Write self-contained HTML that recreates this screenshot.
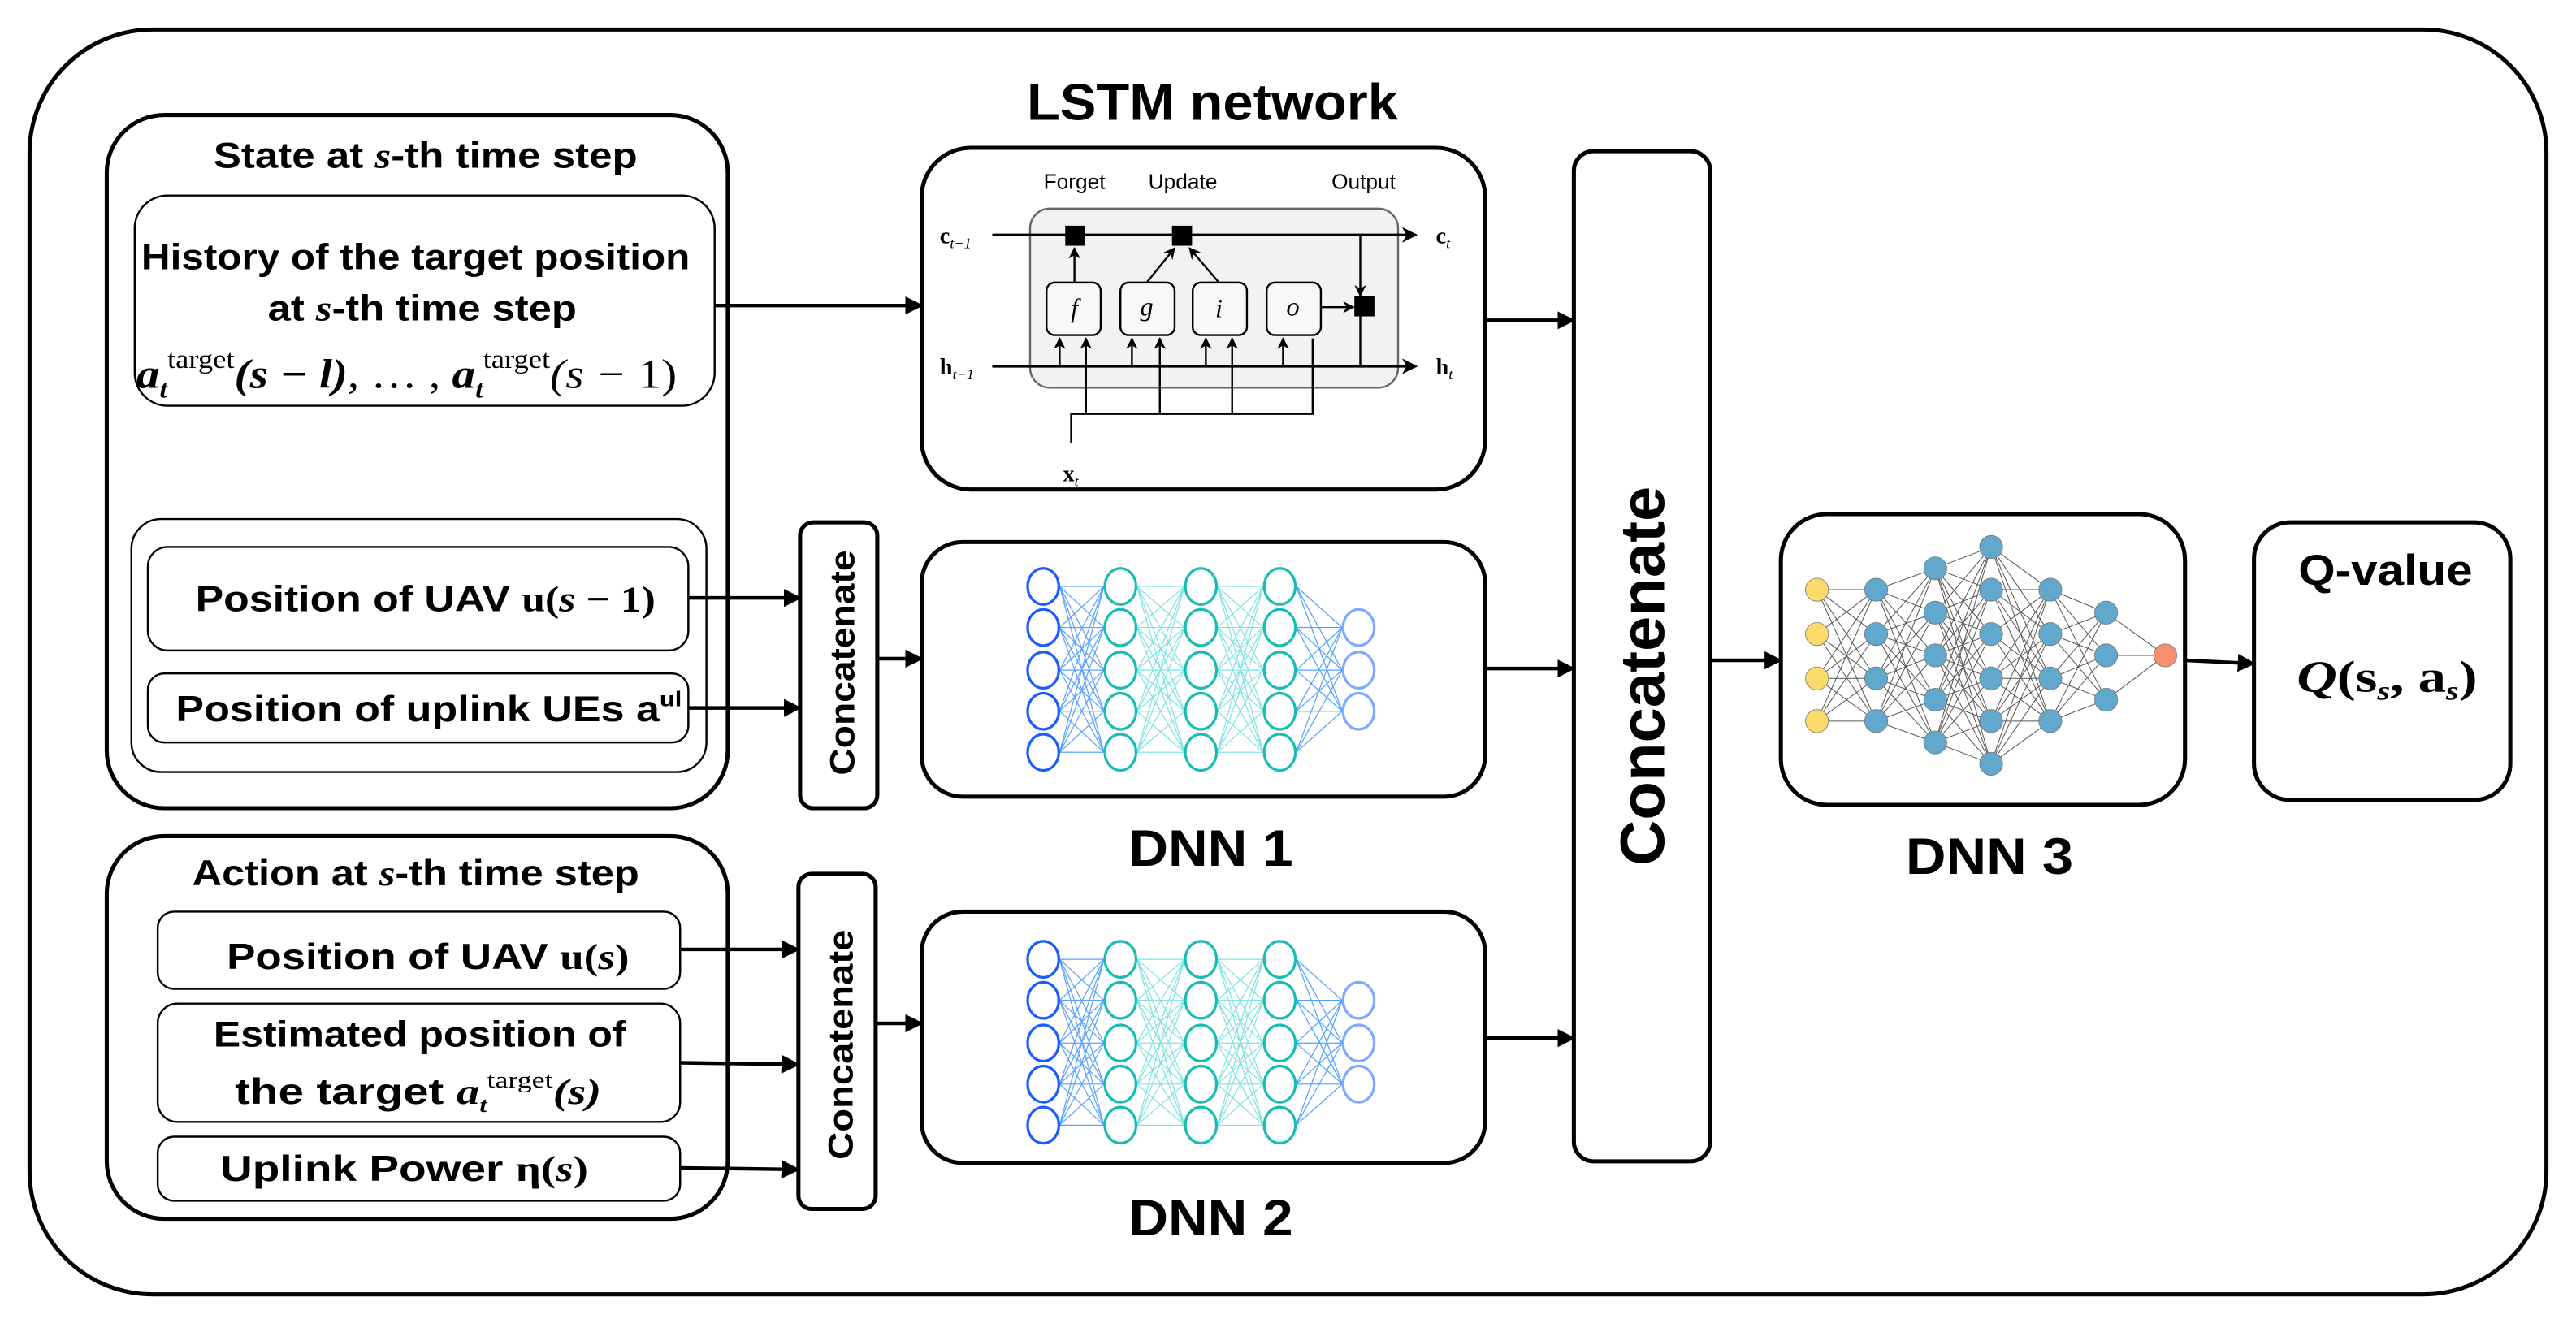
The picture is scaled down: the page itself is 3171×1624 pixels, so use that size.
<!DOCTYPE html>
<html><head><meta charset="utf-8"><style>
html,body{margin:0;padding:0;background:#fff;}
svg{display:block;}
.s{font-family:"Liberation Sans",sans-serif;font-weight:bold;fill:#000;}
.m{font-family:"Liberation Serif",serif;fill:#000;}
</style></head><body>
<svg id="g" width="3171" height="1624" viewBox="0 0 1568 803" preserveAspectRatio="none" xmlns="http://www.w3.org/2000/svg">
<defs>
<marker id="ah" viewBox="0 0 10 10" refX="9" refY="5" markerWidth="5" markerHeight="5" orient="auto"><path d="M0,0 L10,5 L0,10 z" fill="#000"/></marker>
<marker id="as" viewBox="0 0 10 10" refX="9" refY="5" markerWidth="6" markerHeight="6" orient="auto"><path d="M0,0 L10,5 L0,10 L3,5 z" fill="#000"/></marker>
</defs>
<g fill="none" stroke="#000">
<rect x="18" y="18" width="1532" height="770" rx="75" stroke-width="2.5"/>
<rect x="65" y="70" width="378" height="422" rx="35" stroke-width="2.5"/>
<rect x="82" y="119" width="353" height="128" rx="20" stroke-width="1.2"/>
<rect x="80" y="316" width="350" height="154" rx="18" stroke-width="1.2"/>
<rect x="90" y="333" width="329" height="63" rx="12" stroke-width="1.2"/>
<rect x="90" y="410" width="329" height="42" rx="10" stroke-width="1.2"/>
<rect x="65" y="509" width="378" height="233" rx="35" stroke-width="2.5"/>
<rect x="96" y="555" width="318" height="47" rx="10" stroke-width="1.2"/>
<rect x="96" y="611" width="318" height="72" rx="12" stroke-width="1.2"/>
<rect x="96" y="692" width="318" height="39" rx="10" stroke-width="1.2"/>
<rect x="487" y="318" width="47" height="174" rx="8" stroke-width="2.5"/>
<rect x="486" y="532" width="47" height="204" rx="8" stroke-width="2.5"/>
<rect x="561" y="90" width="343" height="208" rx="30" stroke-width="2.5"/>
<rect x="561" y="330" width="343" height="155" rx="25" stroke-width="2.5"/>
<rect x="561" y="555" width="343" height="153" rx="25" stroke-width="2.5"/>
<rect x="958" y="92" width="83" height="615" rx="12" stroke-width="2.5"/>
<rect x="1084" y="313" width="246" height="177" rx="28" stroke-width="2.5"/>
<rect x="1372" y="318" width="156" height="169" rx="22" stroke-width="2.5"/>
<g stroke-width="2.2" marker-end="url(#ah)">
<line x1="435" y1="186" x2="561" y2="186"/>
<line x1="419" y1="364" x2="487" y2="364"/>
<line x1="419" y1="431" x2="487" y2="431"/>
<line x1="534" y1="401" x2="561" y2="401"/>
<line x1="414" y1="578" x2="486" y2="578"/>
<line x1="414" y1="647" x2="486" y2="648"/>
<line x1="414" y1="711" x2="486" y2="712"/>
<line x1="533" y1="623" x2="561" y2="623"/>
<line x1="904" y1="195" x2="958" y2="195"/>
<line x1="904" y1="407" x2="958" y2="407"/>
<line x1="904" y1="632" x2="958" y2="632"/>
<line x1="1041" y1="402" x2="1084" y2="402"/>
<line x1="1330" y1="402" x2="1372" y2="404"/>
</g>
</g>
<!-- LSTM internals -->
<g id="lstm" fill="none" stroke="#000" stroke-width="1.2">
<rect x="627" y="127" width="224" height="109" rx="12" fill="#f2f2f2" stroke="#666"/>
<line x1="604" y1="143" x2="862" y2="143" stroke-width="1.6" marker-end="url(#as)"/>
<line x1="604" y1="223" x2="862" y2="223" stroke-width="1.6" marker-end="url(#as)"/>
<rect x="649" y="138" width="11" height="11" fill="#000"/>
<rect x="714" y="138" width="11" height="11" fill="#000"/>
<rect x="825" y="181" width="11" height="11" fill="#000"/>
<rect x="637" y="172" width="33" height="32" rx="5" fill="#f8f8f8"/>
<rect x="682" y="172" width="33" height="32" rx="5" fill="#f8f8f8"/>
<rect x="726" y="172" width="33" height="32" rx="5" fill="#f8f8f8"/>
<rect x="771" y="172" width="33" height="32" rx="5" fill="#f8f8f8"/>
<line x1="654" y1="172" x2="654" y2="151" marker-end="url(#as)"/>
<line x1="698" y1="172" x2="715" y2="151" marker-end="url(#as)"/>
<line x1="742" y1="172" x2="724" y2="151" marker-end="url(#as)"/>
<line x1="804" y1="187" x2="824" y2="187" marker-end="url(#as)"/>
<line x1="828" y1="143" x2="828" y2="180" marker-end="url(#as)"/>
<line x1="828" y1="192" x2="828" y2="223"/>
<path d="M652,270 V252 H799 V206"/>
<g marker-end="url(#as)">
<line x1="645" y1="223" x2="645" y2="206"/><line x1="689" y1="223" x2="689" y2="206"/>
<line x1="734" y1="223" x2="734" y2="206"/>
<line x1="661" y1="252" x2="661" y2="206"/><line x1="706" y1="252" x2="706" y2="206"/>
<line x1="750" y1="252" x2="750" y2="206"/><line x1="781" y1="223" x2="781" y2="206"/>
</g>
</g>
<g font-family="Liberation Sans,sans-serif" font-size="13" text-anchor="middle" fill="#000">
<text x="654" y="115">Forget</text><text x="720" y="115">Update</text><text x="830" y="115">Output</text>
</g>
<g class="m" font-size="14" font-weight="bold">
<text x="572" y="148">c<tspan font-size="9" font-style="italic" font-weight="normal" dy="3">t−1</tspan></text>
<text x="572" y="228">h<tspan font-size="9" font-style="italic" font-weight="normal" dy="3">t−1</tspan></text>
<text x="874" y="148">c<tspan font-size="9" font-style="italic" font-weight="normal" dy="3">t</tspan></text>
<text x="874" y="228">h<tspan font-size="9" font-style="italic" font-weight="normal" dy="3">t</tspan></text>
<text x="647" y="293">x<tspan font-size="9" font-style="italic" font-weight="normal" dy="3">t</tspan></text>
</g>
<g class="m" font-size="16" font-style="italic" text-anchor="middle">
<text x="654" y="193">f</text><text x="698" y="192">g</text><text x="742" y="193">i</text><text x="787" y="192">o</text>
</g>
<g id="nets"></g>
<!-- text -->
<g class="s" lengthAdjust="spacingAndGlyphs">
<text x="625" y="73" font-size="31" textLength="226" lengthAdjust="spacingAndGlyphs">LSTM network</text>
<text x="130" y="102" font-size="22" textLength="258" lengthAdjust="spacingAndGlyphs">State at <tspan class="m" font-style="italic">s</tspan>-th time step</text>
<text x="86" y="164" font-size="22" textLength="334" lengthAdjust="spacingAndGlyphs">History of the target position</text>
<text x="163" y="195" font-size="22" textLength="188" lengthAdjust="spacingAndGlyphs">at <tspan class="m" font-style="italic">s</tspan>-th time step</text>
<text x="119" y="372" font-size="22" textLength="280" lengthAdjust="spacingAndGlyphs">Position of UAV <tspan class="m">u(<tspan font-style="italic">s</tspan> − 1)</tspan></text>
<text x="107" y="439" font-size="22" textLength="308" lengthAdjust="spacingAndGlyphs">Position of uplink UEs a<tspan font-size="13" dy="-9">ul</tspan></text>
<text x="117" y="539" font-size="22" textLength="272" lengthAdjust="spacingAndGlyphs">Action at <tspan class="m" font-style="italic">s</tspan>-th time step</text>
<text x="138" y="590" font-size="22" textLength="245" lengthAdjust="spacingAndGlyphs">Position of UAV <tspan class="m">u(<tspan font-style="italic">s</tspan>)</tspan></text>
<text x="130" y="637" font-size="22" textLength="251" lengthAdjust="spacingAndGlyphs">Estimated position of</text>
<text x="143" y="672" font-size="22" textLength="223" lengthAdjust="spacingAndGlyphs">the target <tspan class="m" font-style="italic">a<tspan font-size="13" dy="5">t</tspan><tspan font-size="14" font-style="normal" font-weight="normal" dy="-15">target</tspan><tspan dy="10">(s)</tspan></tspan></text>
<text x="134" y="719" font-size="22" textLength="224" lengthAdjust="spacingAndGlyphs">Uplink Power <tspan class="m">η(<tspan font-style="italic">s</tspan>)</tspan></text>
<text x="687" y="527" font-size="31" textLength="100" lengthAdjust="spacingAndGlyphs">DNN 1</text>
<text x="687" y="752" font-size="31" textLength="100" lengthAdjust="spacingAndGlyphs">DNN 2</text>
<text x="1160" y="532" font-size="31" textLength="102" lengthAdjust="spacingAndGlyphs">DNN 3</text>
<text x="1399" y="356" font-size="26" textLength="106" lengthAdjust="spacingAndGlyphs">Q-value</text>
<text x="1398" y="421" font-size="27" class="m" font-weight="bold" textLength="110" lengthAdjust="spacingAndGlyphs"><tspan font-style="italic">Q</tspan>(s<tspan font-size="16" font-style="italic" dy="5">s</tspan><tspan dy="-5">, a</tspan><tspan font-size="16" font-style="italic" dy="5">s</tspan><tspan dy="-5">)</tspan></text>
<text transform="translate(520,472) rotate(-90)" font-size="21" textLength="137" lengthAdjust="spacingAndGlyphs">Concatenate</text>
<text transform="translate(519,706) rotate(-90)" font-size="21" textLength="140" lengthAdjust="spacingAndGlyphs">Concatenate</text>
<text transform="translate(1013,527) rotate(-90)" font-size="38" textLength="231" lengthAdjust="spacingAndGlyphs">Concatenate</text>
</g>
<text x="83" y="236" class="m" font-size="25" font-weight="bold" font-style="italic" textLength="329" lengthAdjust="spacingAndGlyphs">a<tspan font-size="15" dy="6">t</tspan><tspan font-size="16" font-style="normal" font-weight="normal" dy="-18">target</tspan><tspan dy="12">(s − l)</tspan><tspan font-style="normal" font-weight="normal">, … , </tspan>a<tspan font-size="15" dy="6">t</tspan><tspan font-size="16" font-style="normal" font-weight="normal" dy="-18">target</tspan><tspan dy="12" font-weight="normal">(s − </tspan><tspan font-style="normal" font-weight="normal">1)</tspan></text>
</svg>
<script>
(function(){
var ns="http://www.w3.org/2000/svg",G=document.getElementById("nets");
function el(t,a){var e=document.createElementNS(ns,t);for(var k in a)e.setAttribute(k,a[k]);G.appendChild(e);return e;}
function dnn(top){
 var xs=[635,682,731,779,827],r5=[0,25,51,76,101],r3=[25,51,76];
 var cols=[];for(var i=0;i<5;i++){cols.push((i<4?r5:r3).map(function(d){return top+d;}));}
 var lc=["#5aa0ff","#7fe3e0","#7fe3e0","#4fa0ff"];
 for(var i=0;i<4;i++)cols[i].forEach(function(y1){cols[i+1].forEach(function(y2){el("line",{x1:xs[i]+10,y1:y1,x2:xs[i+1]-10,y2:y2,stroke:lc[i],"stroke-width":0.6});});});
 var cc=["#1a5cff","#17bdb4","#17bdb4","#17bdb4","#7fa8ff"];
 for(var i=0;i<5;i++)cols[i].forEach(function(y){el("ellipse",{cx:xs[i],cy:y,rx:9.5,ry:11,fill:"#fff",stroke:cc[i],"stroke-width":1.6});});
}
dnn(357);dnn(584);
var xs=[1106,1142,1178,1212,1248,1282,1318];
var rows=[[359,386,413,439],[359,386,413,439],[346,373,399,426,452],[333,359,386,413,439,465],[359,386,413,439],[373,399,426],[399]];
for(var i=0;i<6;i++)rows[i].forEach(function(a){rows[i+1].forEach(function(b){el("line",{x1:xs[i],y1:a,x2:xs[i+1],y2:b,stroke:"#555","stroke-width":0.5});});});
for(var i=0;i<7;i++)rows[i].forEach(function(y){el("circle",{cx:xs[i],cy:y,r:7,fill:i==0?"#fcd96b":(i==6?"#f98f72":"#62a8cc"),stroke:"#777","stroke-width":0.4});});
})();
</script>
</body></html>
